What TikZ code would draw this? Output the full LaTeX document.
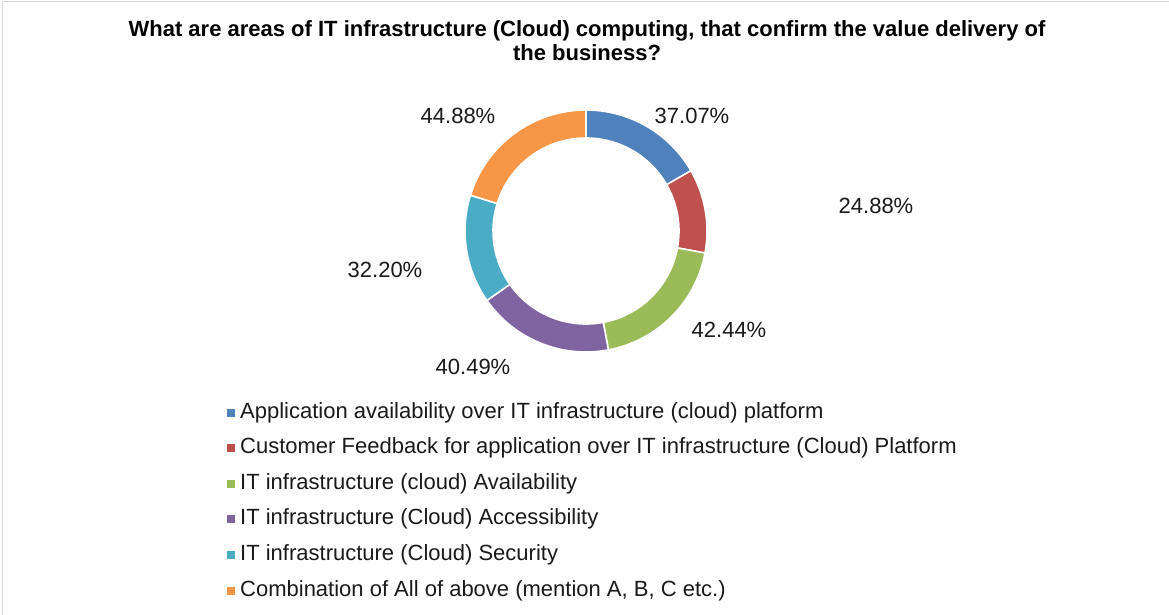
\documentclass[tikz,border=0pt]{standalone}
\usepackage{fontspec}
\setmainfont{Liberation Sans}
\definecolor{sBlue}{HTML}{4F81BD}
\definecolor{sRed}{HTML}{C0504D}
\definecolor{sGreen}{HTML}{9BBB59}
\definecolor{sPurple}{HTML}{8064A2}
\definecolor{sCyan}{HTML}{4BACC6}
\definecolor{sOrange}{HTML}{F79646}
\definecolor{frameGray}{HTML}{D9D9D9}
\definecolor{txt}{HTML}{1A1A1A}
\tikzset{
  pct/.style={font=\fontsize{22}{24}\selectfont, text=txt, inner sep=0pt},
  legtxt/.style={font=\fontsize{22}{24}\selectfont, text=txt, anchor=west, inner sep=0pt},
  legkey/.style={minimum size=8pt, inner sep=0pt, draw=none},
  ttl/.style={font=\fontsize{22}{24}\selectfont\bfseries, text=black, align=center, inner sep=0pt},
  slice/.style={draw=white, line width=1.6pt, line join=miter}
}
% ring segment: colour, start angle, end angle (clockwise)
\newcommand\ringpart[3]{%
  \path[slice, fill=#1] ([shift={(#2:121)}]C) arc[start angle=#2, end angle=#3, radius=121]
    -- ([shift={(#3:93)}]C) arc[start angle=#3, end angle=#2, radius=93] -- cycle;}
\begin{document}
\begin{tikzpicture}[x=1pt,y=1pt]
\useasboundingbox (0,0) rectangle (1169,-615);
\fill[white] (0,0) rectangle (1169,-615);
% chart area outline
\draw[frameGray, line width=1.2pt] (2.5,-615) -- (2.5,-1.5) -- (1169,-1.5);

% title
\node[ttl] (title) at (587,-40.5) {What are areas of IT infrastructure (Cloud) computing, that confirm the value delivery of\\the business?};

% doughnut ring
\coordinate (C) at (586,-231);
\ringpart{sBlue}{90}{29.875}
\ringpart{sRed}{29.875}{-10.478}
\ringpart{sGreen}{-10.478}{-79.312}
\ringpart{sPurple}{-79.312}{-144.984}
\ringpart{sCyan}{-144.984}{-197.21}
\ringpart{sOrange}{-197.21}{-270}

% data labels
\node[pct] (l1) at (692,-116) {37.07\%};
\node[pct] (l2) at (876,-206) {24.88\%};
\node[pct] (l3) at (729,-330) {42.44\%};
\node[pct] (l4) at (473,-367) {40.49\%};
\node[pct] (l5) at (385,-270) {32.20\%};
\node[pct] (l6) at (458,-116) {44.88\%};

% legend
\foreach \i/\col/\lab [count=\n] in {
  0/sBlue/{Application availability over IT infrastructure (cloud) platform},
  1/sRed/{Customer Feedback for application over IT infrastructure (Cloud) Platform},
  2/sGreen/{IT infrastructure (cloud) Availability},
  3/sPurple/{IT infrastructure (Cloud) Accessibility},
  4/sCyan/{IT infrastructure (Cloud) Security},
  5/sOrange/{Combination of All of above (mention A, B, C etc.)}}{
  \node[legkey, fill=\col] (k\n) at (231,{-412.5-35.6*\i}) {};
  \node[legtxt] (t\n) at (240,{-412.5-35.6*\i}) {\lab};
}
\end{tikzpicture}
\end{document}
